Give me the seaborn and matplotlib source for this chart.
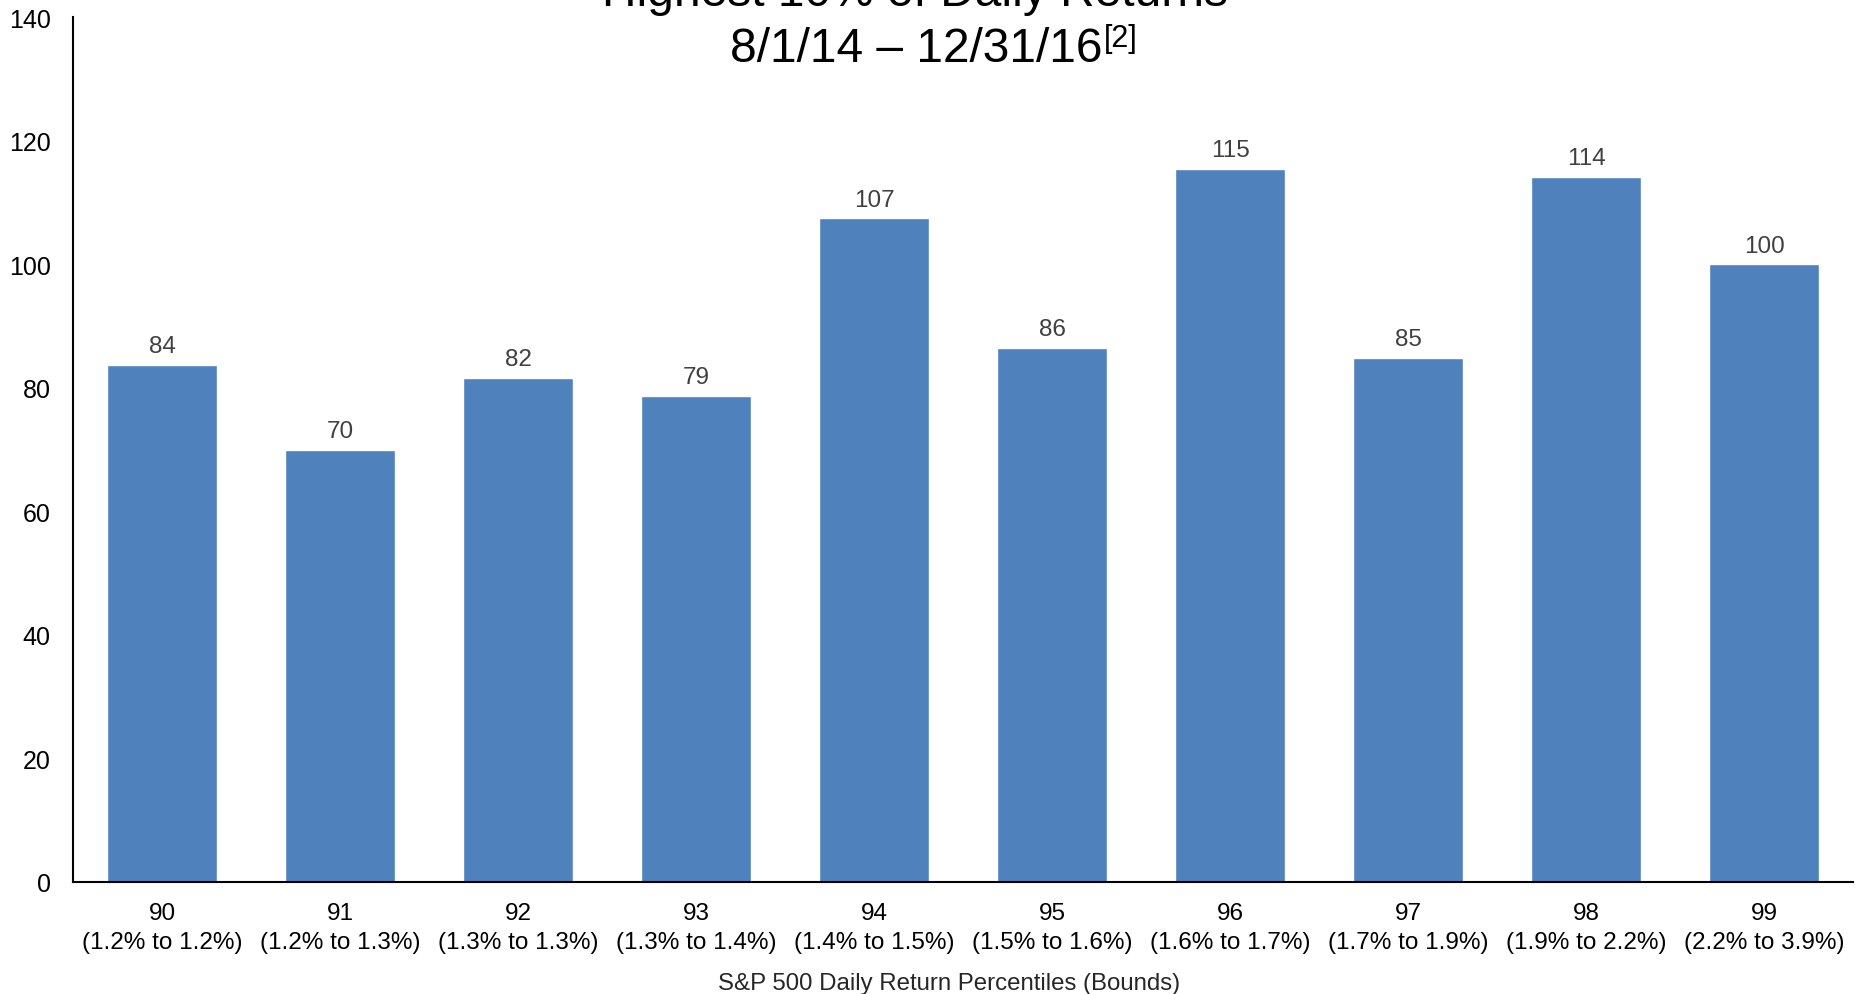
import seaborn as sns
import matplotlib.pyplot as plt
import pandas as pd

sns.set_theme(style="white")
plt.rcParams['font.family'] = ['Liberation Sans', 'DejaVu Sans']

percentiles = ["90", "91", "92", "93", "94", "95", "96", "97", "98", "99"]
bounds = ["(1.2% to 1.2%)", "(1.2% to 1.3%)", "(1.3% to 1.3%)", "(1.3% to 1.4%)",
          "(1.4% to 1.5%)", "(1.5% to 1.6%)", "(1.6% to 1.7%)", "(1.7% to 1.9%)",
          "(1.9% to 2.2%)", "(2.2% to 3.9%)"]
# bar heights (labels show them rounded)
counts = [83.7, 70.0, 81.6, 78.7, 107.4, 86.5, 115.4, 84.8, 114.1, 100.0]

BAR_COLOR = "#4F81BD"


def main():
    labels = [p + "\n" + b for p, b in zip(percentiles, bounds)]
    data = pd.DataFrame({"label": labels, "count": counts})

    fig = plt.figure(figsize=(18.6, 9.95), dpi=100)
    ax = fig.add_axes([73 / 1860, 1 - 883 / 995, 1780 / 1860, 865 / 995])

    sns.barplot(data=data, x="label", y="count", order=labels, color=BAR_COLOR,
                saturation=1, width=0.62, ax=ax)

    for i, v in enumerate(counts):
        ax.annotate(f"{v:.0f}", xy=(i, v), xytext=(0, 5.5), textcoords="offset points",
                    ha="center", va="bottom", fontsize=17.5, color="#404040")

    ax.set_xlim(-0.5, 9.5)
    ax.set_ylim(0, 140)
    ax.set_yticks(range(0, 141, 20))
    ax.tick_params(axis="both", length=0, colors="black")
    ax.tick_params(axis="x", labelsize=17.5, pad=14.7)
    ax.tick_params(axis="y", labelsize=18, pad=16)
    plt.setp(ax.get_xticklabels(), linespacing=1.37)
    ax.set_ylabel("")
    ax.set_xlabel("S&P 500 Daily Return Percentiles (Bounds)", fontsize=17.3)
    ax.xaxis.set_label_coords(0.492, -0.1035)

    for side in ["top", "right"]:
        ax.spines[side].set_visible(False)
    for side in ["left", "bottom"]:
        ax.spines[side].set_color("black")
        ax.spines[side].set_linewidth(1.5)

    # two-line title, top line partly cut off as in the source slide
    fig.text(915 / 1860, 1 - 6 / 995, "Highest 10% of Daily Returns",
             ha="center", va="baseline", fontsize=34.5, color="black")
    t = fig.text(916 / 1860, 1 - 62 / 995, "8/1/14 \u2013 12/31/16",
                 ha="center", va="baseline", fontsize=34.5, color="black")
    fig.canvas.draw()
    ax.annotate("[2]", xy=(1, 1), xycoords=t, xytext=(1, 2),
                textcoords="offset points", ha="left", va="top",
                fontsize=22, color="black", annotation_clip=False)

    fig.savefig("out.png", dpi=100)


if __name__ == "__main__":
    main()
